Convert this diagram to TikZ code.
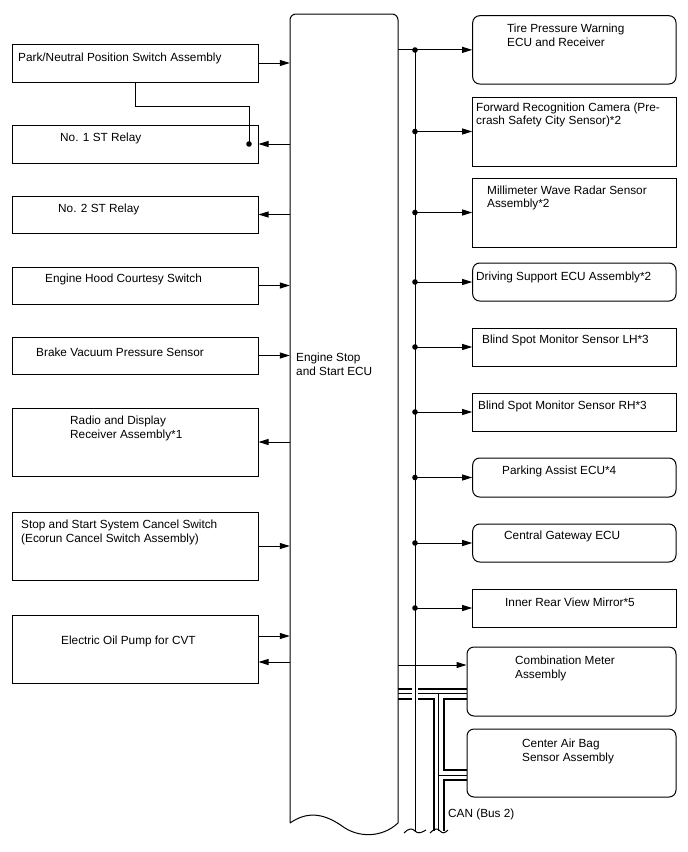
\documentclass[tikz,border=0pt]{standalone}
\usepackage{fontspec}
\setmainfont{Liberation Sans}
\usetikzlibrary{arrows.meta,backgrounds}
\begin{document}
\begin{tikzpicture}[x=1pt,y=-1pt,
  lbox/.style={draw, line width=1pt, inner sep=0, minimum width=246},
  rbox/.style={draw, line width=1pt, inner sep=0, minimum width=203.3},
  rrbox/.style={rbox, rounded corners=7pt},
  lbl/.style={anchor=base west, inner sep=0, align=left, font=\fontsize{11.8}{14}\selectfont},
  conn/.style={line width=1pt},
  arr/.style={conn, -{Triangle[length=10pt,width=6pt]}},
  jdot/.style={circle, fill, inner sep=0, minimum size=5.6pt}
]
\useasboundingbox (0,0) rectangle (688,852);

% ECU
\node[minimum width=108, minimum height=817, inner sep=0] (ecu) at (344,422.5) {};
\draw[line width=1pt] (290,823) [rounded corners=6pt] -- (290,14) -- (398,14) [sharp corners] -- (398,823)
  .. controls (382,838) and (358,838) .. (342,826) .. controls (322,812) and (306,812) .. (290,823);
\node[lbl] (ecut) at (296,375.5) {Engine Stop\\and Start ECU};

% left boxes
\node[lbox, minimum height=38] (pn) at (135,63) {};
\node[lbox, minimum height=38] (r1) at (135,144) {};
\node[lbox, minimum height=37] (r2) at (135,214.5) {};
\node[lbox, minimum height=37] (hood) at (135,285.5) {};
\node[lbox, minimum height=37] (brake) at (135,355.5) {};
\node[lbox, minimum height=68] (radio) at (135,442) {};
\node[lbox, minimum height=68] (stop) at (135,546) {};
\node[lbox, minimum height=68] (oil) at (135,649) {};

\node[lbl] (pnt) at (18,61.5) {Park/Neutral Position Switch Assembly};
\node[lbl] (r1t) at (60,141.5) {No. 1 ST Relay};
\node[lbl] (r2t) at (58,212.5) {No. 2 ST Relay};
\node[lbl] (hoodt) at (45,282.5) {Engine Hood Courtesy Switch};
\node[lbl] (braket) at (36,356.5) {Brake Vacuum Pressure Sensor};
\node[lbl] (radiot) at (70,438.5) {Radio and Display\\Receiver Assembly*1};
\node[lbl] (stopt) at (21,542.5) {Stop and Start System Cancel Switch\\(Ecorun Cancel Switch Assembly)};
\node[lbl] (oilt) at (61,644.5) {Electric Oil Pump for CVT};

% right boxes
\node[rrbox, minimum height=68.3] (tire) at (574.35,49.85) {};
\node[rbox, minimum height=69] (fwd) at (574.35,131.5) {};
\node[rbox, minimum height=69] (mmw) at (574.35,212.5) {};
\node[rrbox, minimum height=38] (dsu) at (574.35,282) {};
\node[rbox, minimum height=38] (bsl) at (574.35,347) {};
\node[rbox, minimum height=38] (bsr) at (574.35,412) {};
\node[rrbox, minimum height=39] (pa) at (574.35,477.5) {};
\node[rrbox, minimum height=38] (cg) at (574.35,543) {};
\node[rbox, minimum height=38] (irm) at (574.35,608) {};
\node[rrbox, minimum width=209, minimum height=69] (cm) at (571.5,681.5) {};
\node[rrbox, minimum width=209, minimum height=68] (cab) at (571.5,763) {};

\node[lbl] (tiret) at (507,46.5) {Tire Pressure Warning\\ECU and Receiver};
\node[lbl] (fwdt) at (476,124.5) {Forward Recognition Camera (Pre-\\[-1pt]crash Safety City Sensor)*2};
\node[lbl] (mmwt) at (487,207.5) {Millimeter Wave Radar Sensor\\[-1pt]Assembly*2};
\node[lbl] (dsut) at (476,280.5) {Driving Support ECU Assembly*2};
\node[lbl] (bslt) at (482,343.5) {Blind Spot Monitor Sensor LH*3};
\node[lbl] (bsrt) at (478,409.5) {Blind Spot Monitor Sensor RH*3};
\node[lbl] (pat) at (502,474.5) {Parking Assist ECU*4};
\node[lbl] (cgt) at (504,539.5) {Central Gateway ECU};
\node[lbl] (irmt) at (505,606.5) {Inner Rear View Mirror*5};
\node[lbl] (cmt) at (515,678.5) {Combination Meter\\Assembly};
\node[lbl] (cabt) at (522,761) {Center Air Bag\\Sensor Assembly};
\node[lbl] (canl) at (448,817) {CAN (Bus 2)};

% left connectors
\draw[arr] (pn.east) -- (pn.east -| ecu.west);
\coordinate (j1) at (249,144);
\draw[arr] (r1.east -| ecu.west) -- (r1.east);
\draw[conn] (pn.south) -- ++(0,24) -| (j1);
\node[jdot] (d1) at (j1) {};
\draw[arr] (r2.east -| ecu.west) -- (r2.east);
\draw[arr] (hood.east) -- (hood.east -| ecu.west);
\draw[arr] (brake.east) -- (brake.east -| ecu.west);
\draw[arr] (radio.east -| ecu.west) -- (radio.east);
\draw[arr] (stop.east) -- (stop.east -| ecu.west);
\draw[arr] (oil.east |- 0,636) -- (ecu.west |- 0,636);
\draw[arr] (ecu.west |- 0,662) -- (oil.east |- 0,662);

% CAN bus
\coordinate (c1) at (ecu.east |- 0,693.5);
\coordinate (c2) at (cm.west |- 0,693.5);
\coordinate (c3) at (438.5,693.5);
\coordinate (c4) at (438.5,831);
\coordinate (c5) at (438.5,775);
\coordinate (c6) at (cab.west |- 0,775);
\begin{pgfonlayer}{background}
\foreach \w/\c in {12pt/black, 8pt/white, 0.6pt/black}{
  \draw[line width=\w, \c] (c1) -- (c2) (c3) -- (c4) (c5) -- (c6);
}
\draw[white, line width=5.5pt] (415,686) -- (415,701);
\end{pgfonlayer}
\draw[conn] (430,833) .. controls (435,828) and (438,828) .. (440,831) .. controls (443,834) and (445,833) .. (448,830);

% bus
\coordinate (bt) at (415,50);
\coordinate (bb) at (415,831);
\draw[arr] (ecu.east |- tire.west) -- (tire.west);
\draw[conn] (bt) -- (bb);
\draw[conn] (404,833) .. controls (409,828) and (412,828) .. (415,831) .. controls (418,834) and (421,833) .. (426,830);
\node[jdot] (d0) at (bt) {};
\foreach \b in {fwd,mmw,dsu,bsl,bsr,pa,cg,irm}{
  \draw[arr] (bt |- \b.west) -- (\b.west);
  \node[jdot] (d\b) at (bt |- \b.west) {};
}
\draw[arr] (ecu.east |- 0,665) -- (cm.west |- 0,665);
\end{tikzpicture}
\end{document}
